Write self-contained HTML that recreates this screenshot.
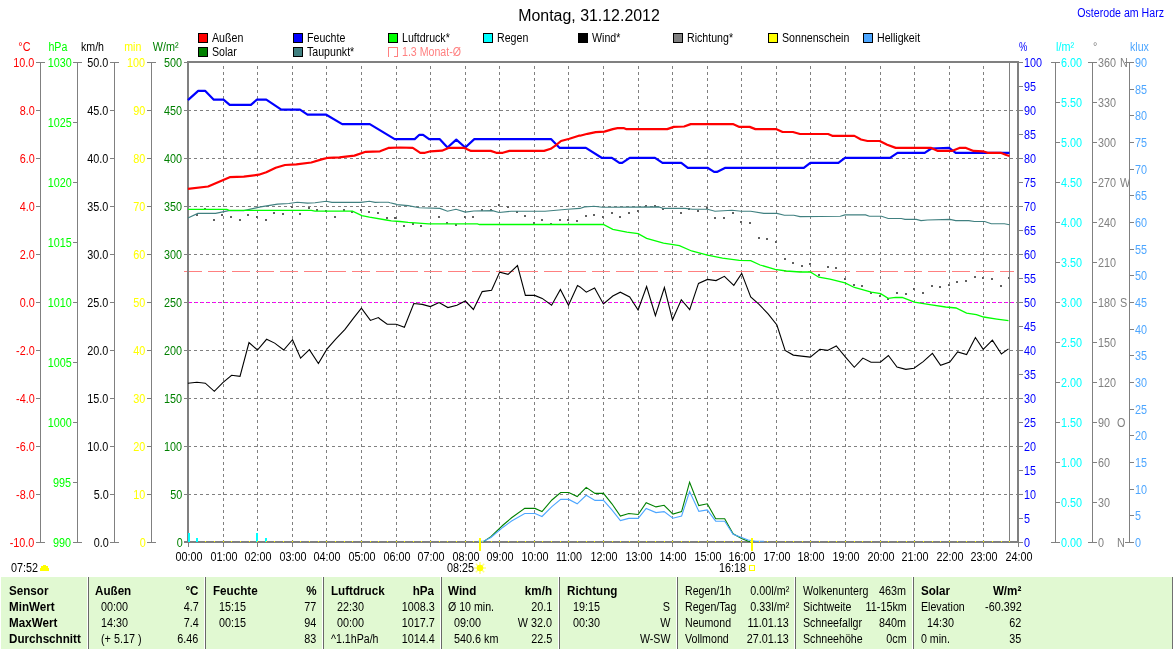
<!DOCTYPE html>
<html><head><meta charset="utf-8"><title>Wetter Osterode am Harz</title>
<style>
html,body{margin:0;padding:0;background:#fff}
body{width:1173px;height:649px;position:relative;overflow:hidden;font-family:"Liberation Sans",sans-serif;font-size:12px;line-height:14px}
svg{position:absolute;left:0;top:0}
#txt{position:absolute;left:0;top:0;width:1173px;height:649px;will-change:transform}
.t{position:absolute;white-space:nowrap;transform-origin:0 0}
.r{transform-origin:100% 0}
.c{width:300px;text-align:center;transform-origin:50% 0}
</style></head><body>
<svg width="1173" height="649" viewBox="0 0 1173 649" shape-rendering="crispEdges">
<line x1="223.5" y1="63" x2="223.5" y2="541" stroke="#808080" stroke-dasharray="3 3" stroke-dashoffset="3"/>
<line x1="257.5" y1="63" x2="257.5" y2="541" stroke="#808080" stroke-dasharray="3 3" stroke-dashoffset="3"/>
<line x1="292.5" y1="63" x2="292.5" y2="541" stroke="#808080" stroke-dasharray="3 3" stroke-dashoffset="3"/>
<line x1="326.5" y1="63" x2="326.5" y2="541" stroke="#808080" stroke-dasharray="3 3" stroke-dashoffset="3"/>
<line x1="361.5" y1="63" x2="361.5" y2="541" stroke="#808080" stroke-dasharray="3 3" stroke-dashoffset="3"/>
<line x1="396.5" y1="63" x2="396.5" y2="541" stroke="#808080" stroke-dasharray="3 3" stroke-dashoffset="3"/>
<line x1="430.5" y1="63" x2="430.5" y2="541" stroke="#808080" stroke-dasharray="3 3" stroke-dashoffset="3"/>
<line x1="465.5" y1="63" x2="465.5" y2="541" stroke="#808080" stroke-dasharray="3 3" stroke-dashoffset="3"/>
<line x1="499.5" y1="63" x2="499.5" y2="541" stroke="#808080" stroke-dasharray="3 3" stroke-dashoffset="3"/>
<line x1="534.5" y1="63" x2="534.5" y2="541" stroke="#808080" stroke-dasharray="3 3" stroke-dashoffset="3"/>
<line x1="568.5" y1="63" x2="568.5" y2="541" stroke="#808080" stroke-dasharray="3 3" stroke-dashoffset="3"/>
<line x1="603.5" y1="63" x2="603.5" y2="541" stroke="#808080" stroke-dasharray="3 3" stroke-dashoffset="3"/>
<line x1="638.5" y1="63" x2="638.5" y2="541" stroke="#808080" stroke-dasharray="3 3" stroke-dashoffset="3"/>
<line x1="672.5" y1="63" x2="672.5" y2="541" stroke="#808080" stroke-dasharray="3 3" stroke-dashoffset="3"/>
<line x1="707.5" y1="63" x2="707.5" y2="541" stroke="#808080" stroke-dasharray="3 3" stroke-dashoffset="3"/>
<line x1="741.5" y1="63" x2="741.5" y2="541" stroke="#808080" stroke-dasharray="3 3" stroke-dashoffset="3"/>
<line x1="776.5" y1="63" x2="776.5" y2="541" stroke="#808080" stroke-dasharray="3 3" stroke-dashoffset="3"/>
<line x1="810.5" y1="63" x2="810.5" y2="541" stroke="#808080" stroke-dasharray="3 3" stroke-dashoffset="3"/>
<line x1="845.5" y1="63" x2="845.5" y2="541" stroke="#808080" stroke-dasharray="3 3" stroke-dashoffset="3"/>
<line x1="880.5" y1="63" x2="880.5" y2="541" stroke="#808080" stroke-dasharray="3 3" stroke-dashoffset="3"/>
<line x1="914.5" y1="63" x2="914.5" y2="541" stroke="#808080" stroke-dasharray="3 3" stroke-dashoffset="3"/>
<line x1="949.5" y1="63" x2="949.5" y2="541" stroke="#808080" stroke-dasharray="3 3" stroke-dashoffset="3"/>
<line x1="983.5" y1="63" x2="983.5" y2="541" stroke="#808080" stroke-dasharray="3 3" stroke-dashoffset="3"/>
<line x1="189" y1="494.5" x2="1017" y2="494.5" stroke="#808080" stroke-dasharray="3 3" stroke-dashoffset="1"/>
<line x1="189" y1="446.5" x2="1017" y2="446.5" stroke="#808080" stroke-dasharray="3 3" stroke-dashoffset="1"/>
<line x1="189" y1="398.5" x2="1017" y2="398.5" stroke="#808080" stroke-dasharray="3 3" stroke-dashoffset="1"/>
<line x1="189" y1="350.5" x2="1017" y2="350.5" stroke="#808080" stroke-dasharray="3 3" stroke-dashoffset="1"/>
<line x1="189" y1="302.5" x2="1017" y2="302.5" stroke="#808080" stroke-dasharray="3 3" stroke-dashoffset="1"/>
<line x1="189" y1="254.5" x2="1017" y2="254.5" stroke="#808080" stroke-dasharray="3 3" stroke-dashoffset="1"/>
<line x1="189" y1="206.5" x2="1017" y2="206.5" stroke="#808080" stroke-dasharray="3 3" stroke-dashoffset="1"/>
<line x1="189" y1="158.5" x2="1017" y2="158.5" stroke="#808080" stroke-dasharray="3 3" stroke-dashoffset="1"/>
<line x1="189" y1="110.5" x2="1017" y2="110.5" stroke="#808080" stroke-dasharray="3 3" stroke-dashoffset="1"/>
<line x1="188.5" y1="543" x2="188.5" y2="547" stroke="#808080"/>
<line x1="223.5" y1="543" x2="223.5" y2="547" stroke="#808080"/>
<line x1="257.5" y1="543" x2="257.5" y2="547" stroke="#808080"/>
<line x1="292.5" y1="543" x2="292.5" y2="547" stroke="#808080"/>
<line x1="326.5" y1="543" x2="326.5" y2="547" stroke="#808080"/>
<line x1="361.5" y1="543" x2="361.5" y2="547" stroke="#808080"/>
<line x1="396.5" y1="543" x2="396.5" y2="547" stroke="#808080"/>
<line x1="430.5" y1="543" x2="430.5" y2="547" stroke="#808080"/>
<line x1="465.5" y1="543" x2="465.5" y2="547" stroke="#808080"/>
<line x1="499.5" y1="543" x2="499.5" y2="547" stroke="#808080"/>
<line x1="534.5" y1="543" x2="534.5" y2="547" stroke="#808080"/>
<line x1="568.5" y1="543" x2="568.5" y2="547" stroke="#808080"/>
<line x1="603.5" y1="543" x2="603.5" y2="547" stroke="#808080"/>
<line x1="638.5" y1="543" x2="638.5" y2="547" stroke="#808080"/>
<line x1="672.5" y1="543" x2="672.5" y2="547" stroke="#808080"/>
<line x1="707.5" y1="543" x2="707.5" y2="547" stroke="#808080"/>
<line x1="741.5" y1="543" x2="741.5" y2="547" stroke="#808080"/>
<line x1="776.5" y1="543" x2="776.5" y2="547" stroke="#808080"/>
<line x1="810.5" y1="543" x2="810.5" y2="547" stroke="#808080"/>
<line x1="845.5" y1="543" x2="845.5" y2="547" stroke="#808080"/>
<line x1="880.5" y1="543" x2="880.5" y2="547" stroke="#808080"/>
<line x1="914.5" y1="543" x2="914.5" y2="547" stroke="#808080"/>
<line x1="949.5" y1="543" x2="949.5" y2="547" stroke="#808080"/>
<line x1="983.5" y1="543" x2="983.5" y2="547" stroke="#808080"/>
<line x1="1018.5" y1="543" x2="1018.5" y2="547" stroke="#808080"/>
<line x1="189" y1="302.5" x2="1017" y2="302.5" stroke="#ff00ff" stroke-dasharray="3 3"/>
<line x1="184" y1="271.5" x2="1014" y2="271.5" stroke="#ff8080" stroke-dasharray="18 6"/>
<rect x="196" y="214" width="2" height="2" fill="#606060"/>
<rect x="204" y="208" width="2" height="2" fill="#606060"/>
<rect x="213" y="219" width="2" height="2" fill="#606060"/>
<rect x="221" y="214" width="2" height="2" fill="#606060"/>
<rect x="230" y="216" width="2" height="2" fill="#606060"/>
<rect x="239" y="219" width="2" height="2" fill="#606060"/>
<rect x="247" y="214" width="2" height="2" fill="#606060"/>
<rect x="256" y="216" width="2" height="2" fill="#606060"/>
<rect x="265" y="219" width="2" height="2" fill="#606060"/>
<rect x="273" y="212" width="2" height="2" fill="#606060"/>
<rect x="282" y="213" width="2" height="2" fill="#606060"/>
<rect x="291" y="206" width="2" height="2" fill="#606060"/>
<rect x="299" y="213" width="2" height="2" fill="#606060"/>
<rect x="308" y="207" width="2" height="2" fill="#606060"/>
<rect x="316" y="209" width="2" height="2" fill="#606060"/>
<rect x="325" y="210" width="2" height="2" fill="#606060"/>
<rect x="334" y="216" width="2" height="2" fill="#606060"/>
<rect x="343" y="209" width="2" height="2" fill="#606060"/>
<rect x="351" y="211" width="2" height="2" fill="#606060"/>
<rect x="360" y="209" width="2" height="2" fill="#606060"/>
<rect x="368" y="211" width="2" height="2" fill="#606060"/>
<rect x="377" y="212" width="2" height="2" fill="#606060"/>
<rect x="386" y="217" width="2" height="2" fill="#606060"/>
<rect x="394" y="217" width="2" height="2" fill="#606060"/>
<rect x="386" y="217" width="2" height="2" fill="#606060"/>
<rect x="395" y="217" width="2" height="2" fill="#606060"/>
<rect x="403" y="225" width="2" height="2" fill="#606060"/>
<rect x="412" y="223" width="2" height="2" fill="#606060"/>
<rect x="420" y="225" width="2" height="2" fill="#606060"/>
<rect x="438" y="216" width="2" height="2" fill="#606060"/>
<rect x="446" y="222" width="2" height="2" fill="#606060"/>
<rect x="455" y="224" width="2" height="2" fill="#606060"/>
<rect x="464" y="216" width="2" height="2" fill="#606060"/>
<rect x="472" y="216" width="2" height="2" fill="#606060"/>
<rect x="481" y="209" width="2" height="2" fill="#606060"/>
<rect x="490" y="209" width="2" height="2" fill="#606060"/>
<rect x="498" y="204" width="2" height="2" fill="#606060"/>
<rect x="507" y="206" width="2" height="2" fill="#606060"/>
<rect x="516" y="211" width="2" height="2" fill="#606060"/>
<rect x="524" y="215" width="2" height="2" fill="#606060"/>
<rect x="533" y="222" width="2" height="2" fill="#606060"/>
<rect x="541" y="219" width="2" height="2" fill="#606060"/>
<rect x="550" y="223" width="2" height="2" fill="#606060"/>
<rect x="559" y="219" width="2" height="2" fill="#606060"/>
<rect x="567" y="219" width="2" height="2" fill="#606060"/>
<rect x="576" y="220" width="2" height="2" fill="#606060"/>
<rect x="585" y="215" width="2" height="2" fill="#606060"/>
<rect x="593" y="214" width="2" height="2" fill="#606060"/>
<rect x="585" y="215" width="2" height="2" fill="#606060"/>
<rect x="593" y="214" width="2" height="2" fill="#606060"/>
<rect x="602" y="216" width="2" height="2" fill="#606060"/>
<rect x="611" y="212" width="2" height="2" fill="#606060"/>
<rect x="619" y="216" width="2" height="2" fill="#606060"/>
<rect x="628" y="212" width="2" height="2" fill="#606060"/>
<rect x="637" y="210" width="2" height="2" fill="#606060"/>
<rect x="645" y="205" width="2" height="2" fill="#606060"/>
<rect x="654" y="205" width="2" height="2" fill="#606060"/>
<rect x="662" y="208" width="2" height="2" fill="#606060"/>
<rect x="680" y="212" width="2" height="2" fill="#606060"/>
<rect x="688" y="208" width="2" height="2" fill="#606060"/>
<rect x="697" y="210" width="2" height="2" fill="#606060"/>
<rect x="706" y="207" width="2" height="2" fill="#606060"/>
<rect x="714" y="217" width="2" height="2" fill="#606060"/>
<rect x="723" y="217" width="2" height="2" fill="#606060"/>
<rect x="732" y="212" width="2" height="2" fill="#606060"/>
<rect x="740" y="221" width="2" height="2" fill="#606060"/>
<rect x="749" y="222" width="2" height="2" fill="#606060"/>
<rect x="758" y="237" width="2" height="2" fill="#606060"/>
<rect x="766" y="238" width="2" height="2" fill="#606060"/>
<rect x="775" y="241" width="2" height="2" fill="#606060"/>
<rect x="784" y="258" width="2" height="2" fill="#606060"/>
<rect x="792" y="262" width="2" height="2" fill="#606060"/>
<rect x="801" y="265" width="2" height="2" fill="#606060"/>
<rect x="809" y="263" width="2" height="2" fill="#606060"/>
<rect x="818" y="274" width="2" height="2" fill="#606060"/>
<rect x="827" y="266" width="2" height="2" fill="#606060"/>
<rect x="835" y="267" width="2" height="2" fill="#606060"/>
<rect x="844" y="278" width="2" height="2" fill="#606060"/>
<rect x="853" y="284" width="2" height="2" fill="#606060"/>
<rect x="861" y="285" width="2" height="2" fill="#606060"/>
<rect x="870" y="292" width="2" height="2" fill="#606060"/>
<rect x="879" y="295" width="2" height="2" fill="#606060"/>
<rect x="887" y="298" width="2" height="2" fill="#606060"/>
<rect x="896" y="292" width="2" height="2" fill="#606060"/>
<rect x="905" y="293" width="2" height="2" fill="#606060"/>
<rect x="913" y="288" width="2" height="2" fill="#606060"/>
<rect x="922" y="292" width="2" height="2" fill="#606060"/>
<rect x="931" y="285" width="2" height="2" fill="#606060"/>
<rect x="939" y="286" width="2" height="2" fill="#606060"/>
<rect x="948" y="284" width="2" height="2" fill="#606060"/>
<rect x="956" y="281" width="2" height="2" fill="#606060"/>
<rect x="965" y="280" width="2" height="2" fill="#606060"/>
<rect x="974" y="276" width="2" height="2" fill="#606060"/>
<rect x="982" y="277" width="2" height="2" fill="#606060"/>
<rect x="991" y="278" width="2" height="2" fill="#606060"/>
<rect x="1000" y="285" width="2" height="2" fill="#606060"/>
<rect x="1008" y="277" width="2" height="2" fill="#606060"/>
<rect x="1009" y="63" width="1" height="479" fill="#808080"/>
<rect x="187" y="61" width="832" height="2" fill="#808080"/>
<rect x="184" y="541" width="835" height="2" fill="#808080"/>
<rect x="187" y="61" width="2" height="482" fill="#808080"/>
<rect x="1017" y="61" width="2" height="482" fill="#808080"/>
<polyline points="187.9,218.1 197.8,213.4 215.6,213.4 228.8,210.6 243.8,210.6 260.6,206.9 277.5,204.1 288.8,203.5 297.2,202.2 307.5,203.1 315.0,202.8 326.3,201.3 331.9,202.4 361.0,202.4 369.4,201.3 375.1,202.4 380.0,202.2 388.4,202.2 390.1,202.8 395.7,204.1 396.9,204.6 408.1,205.6 419.4,207.8 440.0,208.4 447.5,211.2 456.0,209.3 465.3,212.1 473.8,211.0 492.5,210.6 499.1,212.5 511.3,211.2 545.0,211.2 567.6,209.3 580.0,208.4 584.4,206.9 591.3,206.5 593.8,206.3 602.5,207.3 658.8,206.9 663.5,208.4 685.0,208.4 692.5,209.3 707.5,209.3 715.0,211.2 731.9,210.3 741.3,211.2 750.7,211.2 763.8,213.4 776.9,213.4 784.4,215.3 793.8,215.3 800.0,216.6 840.3,216.3 845.0,214.9 865.6,214.9 869.4,216.3 881.6,216.3 888.2,218.5 901.3,218.5 905.0,219.4 916.3,219.4 921.0,220.6 927.5,220.0 950.0,219.4 955.7,220.6 968.8,220.6 974.4,221.5 984.7,221.5 991.3,223.8 1004.4,223.8 1009.5,224.7" fill="none" stroke="#408080" stroke-width="1.1" shape-rendering="auto"/>
<polyline points="187.9,209.3 226.9,209.3 229.1,210.3 311.3,210.3 315.0,211.2 352.5,211.2 361.9,215.7 369.4,217.2 386.3,220.0 391.3,220.9 400.0,221.5 408.1,222.3 428.8,223.8 477.5,223.8 479.4,224.5 600.0,224.5 603.4,224.5 612.8,229.4 626.9,232.2 638.1,233.7 646.6,238.4 663.5,243.1 679.4,245.7 691.6,251.0 707.5,255.1 722.5,258.1 739.4,260.3 750.7,260.7 760.1,265.0 775.1,269.3 786.3,271.0 800.0,272.0 810.3,272.0 818.8,277.2 830.0,279.1 845.0,282.8 854.4,287.5 871.3,292.2 880.6,293.7 888.2,298.4 895.7,297.3 902.2,297.5 914.4,302.2 931.4,304.9 945.7,307.0 956.0,308.0 966.6,313.1 976.4,314.6 983.6,317.0 996.9,319.1 1008.5,320.7" fill="none" stroke="#00ff00" stroke-width="1.3" shape-rendering="auto"/>
<polyline points="483.4,541.8 490.9,536.6 503.1,525.0 511.6,517.8 524.7,508.4 535.0,508.4 542.0,511.6 551.9,500.0 560.7,492.5 568.8,492.5 577.2,496.6 586.2,487.4 595.0,493.4 603.5,493.4 611.9,503.8 620.4,516.0 628.8,513.5 638.2,514.5 646.2,502.8 656.0,506.9 664.1,505.3 672.9,514.1 681.6,511.6 689.6,482.2 698.8,505.6 707.3,503.8 715.7,518.8 724.7,518.8 733.1,533.8 741.6,538.5 748.2,541.3 751.9,541.8" fill="none" stroke="#008000" stroke-width="1.1" shape-rendering="auto"/>
<polyline points="478.0,541.4 483.0,541.4 490.9,537.5 503.1,527.2 511.6,521.0 524.7,513.5 535.0,513.5 542.0,516.5 551.9,506.6 560.7,499.4 568.8,499.4 577.2,503.8 586.2,495.3 595.0,500.4 603.5,500.4 611.9,509.9 620.4,520.6 628.8,518.4 638.2,518.4 646.2,508.4 656.0,512.6 664.1,511.6 672.9,518.2 681.6,516.0 689.6,491.6 698.8,511.3 707.3,509.9 715.7,521.2 724.7,521.2 733.1,534.3 741.6,537.5 748.2,540.0 755.7,541.3 764.1,541.3" fill="none" stroke="#4da6ff" stroke-width="1.1" shape-rendering="auto"/>
<polyline points="187.9,383.2 196.9,382.3 205.3,383.2 214.3,391.3 223.1,382.3 231.6,375.3 240.0,376.3 249.0,342.5 257.5,350.0 266.6,339.3 274.7,343.1 283.7,350.0 292.5,339.7 300.6,358.1 309.4,349.6 318.4,363.5 326.9,349.1 335.7,339.1 345.0,329.4 353.5,318.1 361.4,308.2 370.4,320.4 378.4,317.6 380.0,319.0 387.2,324.3 395.7,324.3 396.9,324.5 404.4,327.3 413.8,303.5 422.2,304.4 430.3,306.6 439.1,302.5 447.9,307.6 456.9,305.3 465.3,301.0 473.4,309.5 482.2,291.6 491.6,290.3 499.7,272.1 508.1,274.4 517.5,265.6 525.4,295.4 534.7,295.4 542.2,298.4 551.6,305.3 560.4,289.4 568.5,305.3 577.5,285.6 580.0,286.9 586.3,292.2 594.6,288.1 603.4,304.0 612.8,296.0 620.3,292.2 629.7,296.9 638.1,310.0 646.6,286.6 655.4,315.6 664.4,287.5 672.5,319.8 681.3,299.7 689.7,309.6 698.5,283.4 707.5,279.4 716.0,280.6 724.4,276.3 733.8,285.3 741.7,273.4 750.7,296.9 759.1,304.4 768.1,313.8 776.9,325.0 785.1,350.4 793.3,355.1 801.5,356.1 810.3,357.1 819.9,349.3 827.5,350.4 836.3,345.9 845.5,357.1 854.3,367.3 862.9,358.1 871.0,362.2 880.3,362.2 888.4,355.5 897.0,367.1 905.8,369.4 914.0,368.2 923.2,361.6 932.4,353.4 940.6,365.3 949.8,362.0 957.6,352.0 966.6,354.5 975.4,337.5 983.2,349.3 992.4,340.1 1001.4,354.0 1008.5,348.9" fill="none" stroke="#000" stroke-width="1.1" shape-rendering="auto"/>
<polyline points="187.9,100.1 198.2,90.9 205.3,90.9 213.8,99.7 223.5,99.7 229.7,104.8 250.9,104.8 256.9,99.7 266.3,99.7 281.3,109.6 300.0,109.6 307.5,114.7 326.3,114.7 342.2,124.1 369.8,124.1 394.7,139.1 414.7,139.1 419.4,134.8 423.1,134.8 429.1,139.1 439.6,139.1 447.5,147.5 456.3,139.6 465.3,147.5 474.3,139.1 551.0,139.1 559.7,147.9 585.9,147.9 601.6,157.8 611.9,157.8 619.4,162.9 622.2,162.9 629.7,157.8 655.0,157.8 662.5,162.9 681.3,162.9 687.8,167.8 707.5,167.8 714.1,171.9 716.9,171.9 725.4,167.8 800.0,167.8 803.8,167.8 810.3,162.9 838.4,162.9 845.0,157.8 890.0,157.8 897.5,152.8 924.7,152.8 931.3,148.5 949.1,147.9 955.7,152.8 1009.5,152.8" fill="none" stroke="#0000ff" stroke-width="2.2" shape-rendering="auto" stroke-linejoin="round"/>
<polyline points="187.9,188.8 208.1,186.5 229.7,177.2 243.8,176.6 258.8,174.7 266.3,172.3 275.7,167.8 285.0,165.0 296.3,164.4 311.3,162.5 322.5,159.1 328.2,157.8 339.4,157.3 354.4,155.6 365.7,151.8 380.0,151.3 388.4,147.9 390.1,147.9 400.0,147.5 412.8,147.9 420.3,152.8 425.0,152.8 430.6,151.3 441.9,150.7 448.5,147.9 464.4,147.9 471.0,150.9 490.7,150.9 496.3,152.8 502.8,152.8 509.4,150.9 544.1,150.9 550.7,148.8 555.4,145.6 561.0,141.0 569.4,138.7 578.8,135.7 580.0,135.7 587.5,133.8 595.7,132.1 604.4,131.6 612.8,129.1 617.5,128.2 624.1,128.2 626.0,129.1 667.2,129.1 673.8,126.9 684.1,126.5 690.7,124.1 732.9,124.1 739.4,126.9 749.7,126.9 755.4,129.1 776.0,129.1 782.6,132.0 792.9,132.0 800.0,134.0 828.1,134.0 832.8,135.9 854.4,135.9 861.0,139.5 867.5,141.0 879.7,141.0 887.2,144.7 895.7,147.9 931.3,147.9 937.9,150.9 951.9,150.9 959.4,147.9 966.0,147.9 973.5,150.9 982.9,151.3 987.6,152.8 1000.7,152.8 1006.3,155.0 1009.5,156.0" fill="none" stroke="#ff0000" stroke-width="2.2" shape-rendering="auto" stroke-linejoin="round"/>
<rect x="188" y="533" width="2" height="9" fill="#00ffff"/>
<rect x="196" y="538" width="2" height="4" fill="#00ffff"/>
<rect x="256" y="533" width="2" height="9" fill="#00ffff"/>
<rect x="265" y="538" width="2" height="4" fill="#00ffff"/>
<rect x="205" y="541" width="1" height="1" fill="#ffff00"/>
<rect x="214" y="541" width="1" height="1" fill="#ffff00"/>
<rect x="223" y="541" width="1" height="1" fill="#ffff00"/>
<rect x="231" y="541" width="1" height="1" fill="#ffff00"/>
<rect x="240" y="541" width="1" height="1" fill="#ffff00"/>
<rect x="249" y="541" width="1" height="1" fill="#ffff00"/>
<rect x="257" y="541" width="1" height="1" fill="#ffff00"/>
<rect x="266" y="541" width="1" height="1" fill="#ffff00"/>
<rect x="274" y="541" width="1" height="1" fill="#ffff00"/>
<rect x="283" y="541" width="1" height="1" fill="#ffff00"/>
<rect x="292" y="541" width="1" height="1" fill="#ffff00"/>
<rect x="300" y="541" width="1" height="1" fill="#ffff00"/>
<rect x="309" y="541" width="1" height="1" fill="#ffff00"/>
<rect x="318" y="541" width="1" height="1" fill="#ffff00"/>
<rect x="326" y="541" width="1" height="1" fill="#ffff00"/>
<rect x="335" y="541" width="1" height="1" fill="#ffff00"/>
<rect x="344" y="541" width="1" height="1" fill="#ffff00"/>
<rect x="352" y="541" width="1" height="1" fill="#ffff00"/>
<rect x="361" y="541" width="1" height="1" fill="#ffff00"/>
<rect x="370" y="541" width="1" height="1" fill="#ffff00"/>
<rect x="378" y="541" width="1" height="1" fill="#ffff00"/>
<rect x="387" y="541" width="1" height="1" fill="#ffff00"/>
<rect x="396" y="541" width="1" height="1" fill="#ffff00"/>
<rect x="404" y="541" width="1" height="1" fill="#ffff00"/>
<rect x="413" y="541" width="1" height="1" fill="#ffff00"/>
<rect x="421" y="541" width="1" height="1" fill="#ffff00"/>
<rect x="430" y="541" width="1" height="1" fill="#ffff00"/>
<rect x="439" y="541" width="1" height="1" fill="#ffff00"/>
<rect x="447" y="541" width="1" height="1" fill="#ffff00"/>
<rect x="456" y="541" width="1" height="1" fill="#ffff00"/>
<rect x="465" y="541" width="1" height="1" fill="#ffff00"/>
<rect x="473" y="541" width="1" height="1" fill="#ffff00"/>
<rect x="482" y="541" width="1" height="1" fill="#ffff00"/>
<rect x="491" y="541" width="1" height="1" fill="#ffff00"/>
<rect x="499" y="541" width="1" height="1" fill="#ffff00"/>
<rect x="508" y="541" width="1" height="1" fill="#ffff00"/>
<rect x="517" y="541" width="1" height="1" fill="#ffff00"/>
<rect x="525" y="541" width="1" height="1" fill="#ffff00"/>
<rect x="534" y="541" width="1" height="1" fill="#ffff00"/>
<rect x="542" y="541" width="1" height="1" fill="#ffff00"/>
<rect x="551" y="541" width="1" height="1" fill="#ffff00"/>
<rect x="560" y="541" width="1" height="1" fill="#ffff00"/>
<rect x="568" y="541" width="1" height="1" fill="#ffff00"/>
<rect x="577" y="541" width="1" height="1" fill="#ffff00"/>
<rect x="586" y="541" width="1" height="1" fill="#ffff00"/>
<rect x="594" y="541" width="1" height="1" fill="#ffff00"/>
<rect x="603" y="541" width="1" height="1" fill="#ffff00"/>
<rect x="612" y="541" width="1" height="1" fill="#ffff00"/>
<rect x="620" y="541" width="1" height="1" fill="#ffff00"/>
<rect x="629" y="541" width="1" height="1" fill="#ffff00"/>
<rect x="638" y="541" width="1" height="1" fill="#ffff00"/>
<rect x="646" y="541" width="1" height="1" fill="#ffff00"/>
<rect x="655" y="541" width="1" height="1" fill="#ffff00"/>
<rect x="664" y="541" width="1" height="1" fill="#ffff00"/>
<rect x="672" y="541" width="1" height="1" fill="#ffff00"/>
<rect x="681" y="541" width="1" height="1" fill="#ffff00"/>
<rect x="689" y="541" width="1" height="1" fill="#ffff00"/>
<rect x="698" y="541" width="1" height="1" fill="#ffff00"/>
<rect x="707" y="541" width="1" height="1" fill="#ffff00"/>
<rect x="715" y="541" width="1" height="1" fill="#ffff00"/>
<rect x="724" y="541" width="1" height="1" fill="#ffff00"/>
<rect x="733" y="541" width="1" height="1" fill="#ffff00"/>
<rect x="741" y="541" width="1" height="1" fill="#ffff00"/>
<rect x="750" y="541" width="1" height="1" fill="#ffff00"/>
<rect x="759" y="541" width="1" height="1" fill="#ffff00"/>
<rect x="767" y="541" width="1" height="1" fill="#ffff00"/>
<rect x="776" y="541" width="1" height="1" fill="#ffff00"/>
<rect x="785" y="541" width="1" height="1" fill="#ffff00"/>
<rect x="793" y="541" width="1" height="1" fill="#ffff00"/>
<rect x="802" y="541" width="1" height="1" fill="#ffff00"/>
<rect x="810" y="541" width="1" height="1" fill="#ffff00"/>
<rect x="819" y="541" width="1" height="1" fill="#ffff00"/>
<rect x="828" y="541" width="1" height="1" fill="#ffff00"/>
<rect x="836" y="541" width="1" height="1" fill="#ffff00"/>
<rect x="845" y="541" width="1" height="1" fill="#ffff00"/>
<rect x="854" y="541" width="1" height="1" fill="#ffff00"/>
<rect x="862" y="541" width="1" height="1" fill="#ffff00"/>
<rect x="871" y="541" width="1" height="1" fill="#ffff00"/>
<rect x="880" y="541" width="1" height="1" fill="#ffff00"/>
<rect x="888" y="541" width="1" height="1" fill="#ffff00"/>
<rect x="897" y="541" width="1" height="1" fill="#ffff00"/>
<rect x="906" y="541" width="1" height="1" fill="#ffff00"/>
<rect x="914" y="541" width="1" height="1" fill="#ffff00"/>
<rect x="923" y="541" width="1" height="1" fill="#ffff00"/>
<rect x="932" y="541" width="1" height="1" fill="#ffff00"/>
<rect x="940" y="541" width="1" height="1" fill="#ffff00"/>
<rect x="949" y="541" width="1" height="1" fill="#ffff00"/>
<rect x="957" y="541" width="1" height="1" fill="#ffff00"/>
<rect x="966" y="541" width="1" height="1" fill="#ffff00"/>
<rect x="975" y="541" width="1" height="1" fill="#ffff00"/>
<rect x="983" y="541" width="1" height="1" fill="#ffff00"/>
<rect x="992" y="541" width="1" height="1" fill="#ffff00"/>
<rect x="1001" y="541" width="1" height="1" fill="#ffff00"/>
<rect x="1009" y="541" width="1" height="1" fill="#ffff00"/>
<rect x="479" y="538" width="2" height="13" fill="#ffff00"/>
<rect x="751" y="538" width="2" height="13" fill="#ffff00"/>
<rect x="40" y="62" width="1" height="481" fill="#808080"/>
<rect x="36" y="62" width="9" height="1" fill="#808080"/>
<rect x="36" y="110" width="4" height="1" fill="#808080"/>
<rect x="36" y="158" width="4" height="1" fill="#808080"/>
<rect x="36" y="206" width="4" height="1" fill="#808080"/>
<rect x="36" y="254" width="4" height="1" fill="#808080"/>
<rect x="36" y="302" width="4" height="1" fill="#808080"/>
<rect x="36" y="350" width="4" height="1" fill="#808080"/>
<rect x="36" y="398" width="4" height="1" fill="#808080"/>
<rect x="36" y="446" width="4" height="1" fill="#808080"/>
<rect x="36" y="494" width="4" height="1" fill="#808080"/>
<rect x="36" y="542" width="9" height="1" fill="#808080"/>
<rect x="77" y="62" width="1" height="481" fill="#808080"/>
<rect x="73" y="62" width="9" height="1" fill="#808080"/>
<rect x="73" y="122" width="4" height="1" fill="#808080"/>
<rect x="73" y="182" width="4" height="1" fill="#808080"/>
<rect x="73" y="242" width="4" height="1" fill="#808080"/>
<rect x="73" y="302" width="4" height="1" fill="#808080"/>
<rect x="73" y="362" width="4" height="1" fill="#808080"/>
<rect x="73" y="422" width="4" height="1" fill="#808080"/>
<rect x="73" y="482" width="4" height="1" fill="#808080"/>
<rect x="73" y="542" width="9" height="1" fill="#808080"/>
<rect x="114" y="62" width="1" height="481" fill="#808080"/>
<rect x="110" y="62" width="9" height="1" fill="#808080"/>
<rect x="110" y="110" width="4" height="1" fill="#808080"/>
<rect x="110" y="158" width="4" height="1" fill="#808080"/>
<rect x="110" y="206" width="4" height="1" fill="#808080"/>
<rect x="110" y="254" width="4" height="1" fill="#808080"/>
<rect x="110" y="302" width="4" height="1" fill="#808080"/>
<rect x="110" y="350" width="4" height="1" fill="#808080"/>
<rect x="110" y="398" width="4" height="1" fill="#808080"/>
<rect x="110" y="446" width="4" height="1" fill="#808080"/>
<rect x="110" y="494" width="4" height="1" fill="#808080"/>
<rect x="110" y="542" width="9" height="1" fill="#808080"/>
<rect x="151" y="62" width="1" height="481" fill="#808080"/>
<rect x="147" y="62" width="9" height="1" fill="#808080"/>
<rect x="147" y="110" width="4" height="1" fill="#808080"/>
<rect x="147" y="158" width="4" height="1" fill="#808080"/>
<rect x="147" y="206" width="4" height="1" fill="#808080"/>
<rect x="147" y="254" width="4" height="1" fill="#808080"/>
<rect x="147" y="302" width="4" height="1" fill="#808080"/>
<rect x="147" y="350" width="4" height="1" fill="#808080"/>
<rect x="147" y="398" width="4" height="1" fill="#808080"/>
<rect x="147" y="446" width="4" height="1" fill="#808080"/>
<rect x="147" y="494" width="4" height="1" fill="#808080"/>
<rect x="147" y="542" width="9" height="1" fill="#808080"/>
<rect x="184" y="62" width="3" height="1" fill="#808080"/>
<rect x="184" y="110" width="3" height="1" fill="#808080"/>
<rect x="184" y="158" width="3" height="1" fill="#808080"/>
<rect x="184" y="206" width="3" height="1" fill="#808080"/>
<rect x="184" y="254" width="3" height="1" fill="#808080"/>
<rect x="184" y="302" width="3" height="1" fill="#808080"/>
<rect x="184" y="350" width="3" height="1" fill="#808080"/>
<rect x="184" y="398" width="3" height="1" fill="#808080"/>
<rect x="184" y="446" width="3" height="1" fill="#808080"/>
<rect x="184" y="494" width="3" height="1" fill="#808080"/>
<rect x="184" y="542" width="3" height="1" fill="#808080"/>
<rect x="1019" y="62" width="4" height="1" fill="#808080"/>
<rect x="1019" y="86" width="4" height="1" fill="#808080"/>
<rect x="1019" y="110" width="4" height="1" fill="#808080"/>
<rect x="1019" y="134" width="4" height="1" fill="#808080"/>
<rect x="1019" y="158" width="4" height="1" fill="#808080"/>
<rect x="1019" y="182" width="4" height="1" fill="#808080"/>
<rect x="1019" y="206" width="4" height="1" fill="#808080"/>
<rect x="1019" y="230" width="4" height="1" fill="#808080"/>
<rect x="1019" y="254" width="4" height="1" fill="#808080"/>
<rect x="1019" y="278" width="4" height="1" fill="#808080"/>
<rect x="1019" y="302" width="4" height="1" fill="#808080"/>
<rect x="1019" y="326" width="4" height="1" fill="#808080"/>
<rect x="1019" y="350" width="4" height="1" fill="#808080"/>
<rect x="1019" y="374" width="4" height="1" fill="#808080"/>
<rect x="1019" y="398" width="4" height="1" fill="#808080"/>
<rect x="1019" y="422" width="4" height="1" fill="#808080"/>
<rect x="1019" y="446" width="4" height="1" fill="#808080"/>
<rect x="1019" y="470" width="4" height="1" fill="#808080"/>
<rect x="1019" y="494" width="4" height="1" fill="#808080"/>
<rect x="1019" y="518" width="4" height="1" fill="#808080"/>
<rect x="1019" y="542" width="4" height="1" fill="#808080"/>
<rect x="1055" y="62" width="1" height="481" fill="#808080"/>
<rect x="1051" y="62" width="9" height="1" fill="#808080"/>
<rect x="1056" y="102" width="4" height="1" fill="#808080"/>
<rect x="1056" y="142" width="4" height="1" fill="#808080"/>
<rect x="1056" y="182" width="4" height="1" fill="#808080"/>
<rect x="1056" y="222" width="4" height="1" fill="#808080"/>
<rect x="1056" y="262" width="4" height="1" fill="#808080"/>
<rect x="1056" y="302" width="4" height="1" fill="#808080"/>
<rect x="1056" y="342" width="4" height="1" fill="#808080"/>
<rect x="1056" y="382" width="4" height="1" fill="#808080"/>
<rect x="1056" y="422" width="4" height="1" fill="#808080"/>
<rect x="1056" y="462" width="4" height="1" fill="#808080"/>
<rect x="1056" y="502" width="4" height="1" fill="#808080"/>
<rect x="1051" y="542" width="9" height="1" fill="#808080"/>
<rect x="1092" y="62" width="1" height="481" fill="#808080"/>
<rect x="1088" y="62" width="9" height="1" fill="#808080"/>
<rect x="1093" y="102" width="4" height="1" fill="#808080"/>
<rect x="1093" y="142" width="4" height="1" fill="#808080"/>
<rect x="1093" y="182" width="4" height="1" fill="#808080"/>
<rect x="1093" y="222" width="4" height="1" fill="#808080"/>
<rect x="1093" y="262" width="4" height="1" fill="#808080"/>
<rect x="1093" y="302" width="4" height="1" fill="#808080"/>
<rect x="1093" y="342" width="4" height="1" fill="#808080"/>
<rect x="1093" y="382" width="4" height="1" fill="#808080"/>
<rect x="1093" y="422" width="4" height="1" fill="#808080"/>
<rect x="1093" y="462" width="4" height="1" fill="#808080"/>
<rect x="1093" y="502" width="4" height="1" fill="#808080"/>
<rect x="1088" y="542" width="9" height="1" fill="#808080"/>
<rect x="1129" y="62" width="1" height="481" fill="#808080"/>
<rect x="1125" y="62" width="9" height="1" fill="#808080"/>
<rect x="1130" y="89" width="4" height="1" fill="#808080"/>
<rect x="1130" y="115" width="4" height="1" fill="#808080"/>
<rect x="1130" y="142" width="4" height="1" fill="#808080"/>
<rect x="1130" y="169" width="4" height="1" fill="#808080"/>
<rect x="1130" y="195" width="4" height="1" fill="#808080"/>
<rect x="1130" y="222" width="4" height="1" fill="#808080"/>
<rect x="1130" y="249" width="4" height="1" fill="#808080"/>
<rect x="1130" y="275" width="4" height="1" fill="#808080"/>
<rect x="1130" y="302" width="4" height="1" fill="#808080"/>
<rect x="1130" y="329" width="4" height="1" fill="#808080"/>
<rect x="1130" y="355" width="4" height="1" fill="#808080"/>
<rect x="1130" y="382" width="4" height="1" fill="#808080"/>
<rect x="1130" y="409" width="4" height="1" fill="#808080"/>
<rect x="1130" y="435" width="4" height="1" fill="#808080"/>
<rect x="1130" y="462" width="4" height="1" fill="#808080"/>
<rect x="1130" y="489" width="4" height="1" fill="#808080"/>
<rect x="1130" y="515" width="4" height="1" fill="#808080"/>
<rect x="1125" y="542" width="9" height="1" fill="#808080"/>
<rect x="198.5" y="33.5" width="9" height="9" fill="#ff0000" stroke="#000"/>
<rect x="293.5" y="33.5" width="9" height="9" fill="#0000ff" stroke="#000"/>
<rect x="388.5" y="33.5" width="9" height="9" fill="#00ff00" stroke="#000"/>
<rect x="483.5" y="33.5" width="9" height="9" fill="#00ffff" stroke="#000"/>
<rect x="578.5" y="33.5" width="9" height="9" fill="#000000" stroke="#000"/>
<rect x="673.5" y="33.5" width="9" height="9" fill="#808080" stroke="#000"/>
<rect x="768.5" y="33.5" width="9" height="9" fill="#ffff00" stroke="#000"/>
<rect x="863.5" y="33.5" width="9" height="9" fill="#4da6ff" stroke="#000"/>
<rect x="198.5" y="47.5" width="9" height="9" fill="#008000" stroke="#000"/>
<rect x="293.5" y="47.5" width="9" height="9" fill="#408080" stroke="#000"/>
<path d="M388.5 57V47.5H397.5V56.5H394" fill="none" stroke="#ff8080"/>
<path d="M43 565h3v1h2v2h1v3h-9v-3h1v-2h2z" fill="#ffff00"/>
<g shape-rendering="auto"><g stroke="#ffff88" stroke-width="1.6"><path d="M480 562v12M474 568h12M475.8 563.8l8.4 8.4M484.2 563.8l-8.4 8.4"/></g><circle cx="480" cy="568" r="3.3" fill="#ffff00"/></g>
<rect x="749.5" y="565.5" width="5" height="5" fill="none" stroke="#ffff00"/>
<rect x="1" y="577" width="1171" height="72" fill="#e1f9d2"/>
<rect x="1172" y="577" width="1" height="72" fill="#707070"/>
<rect x="87" y="577" width="1" height="72" fill="#ffffff"/><rect x="88" y="577" width="1" height="72" fill="#686868"/>
<rect x="204" y="577" width="1" height="72" fill="#ffffff"/><rect x="205" y="577" width="1" height="72" fill="#686868"/>
<rect x="322" y="577" width="1" height="72" fill="#ffffff"/><rect x="323" y="577" width="1" height="72" fill="#686868"/>
<rect x="440" y="577" width="1" height="72" fill="#ffffff"/><rect x="441" y="577" width="1" height="72" fill="#686868"/>
<rect x="558" y="577" width="1" height="72" fill="#ffffff"/><rect x="559" y="577" width="1" height="72" fill="#686868"/>
<rect x="676" y="577" width="1" height="72" fill="#ffffff"/><rect x="677" y="577" width="1" height="72" fill="#686868"/>
<rect x="794" y="577" width="1" height="72" fill="#ffffff"/><rect x="795" y="577" width="1" height="72" fill="#686868"/>
<rect x="912" y="577" width="1" height="72" fill="#ffffff"/><rect x="913" y="577" width="1" height="72" fill="#686868"/>
</svg>
<div id="txt">
<span class="t c" style="left:438.5px;top:7px;color:#000;font-size:16px;line-height:18px;transform:scaleX(0.995)">Montag, 31.12.2012</span>
<span class="t r" style="right:9px;top:6px;color:#0000ff;transform:scaleX(0.885)">Osterode am Harz</span>
<span class="t" style="left:212px;top:31px;color:#000;transform:scaleX(0.885)">Außen</span>
<span class="t" style="left:307px;top:31px;color:#000;transform:scaleX(0.885)">Feuchte</span>
<span class="t" style="left:402px;top:31px;color:#000;transform:scaleX(0.885)">Luftdruck*</span>
<span class="t" style="left:497px;top:31px;color:#000;transform:scaleX(0.885)">Regen</span>
<span class="t" style="left:592px;top:31px;color:#000;transform:scaleX(0.885)">Wind*</span>
<span class="t" style="left:687px;top:31px;color:#000;transform:scaleX(0.885)">Richtung*</span>
<span class="t" style="left:782px;top:31px;color:#000;transform:scaleX(0.885)">Sonnenschein</span>
<span class="t" style="left:877px;top:31px;color:#000;transform:scaleX(0.885)">Helligkeit</span>
<span class="t" style="left:212px;top:45px;color:#000;transform:scaleX(0.885)">Solar</span>
<span class="t" style="left:307px;top:45px;color:#000;transform:scaleX(0.885)">Taupunkt*</span>
<span class="t" style="left:402px;top:45px;color:#ff8080;transform:scaleX(0.885)">1.3 Monat-Ø</span>
<span class="t r" style="right:1142.5px;top:40px;color:#ff0000;transform:scaleX(0.9)">°C</span>
<span class="t r" style="right:1105.5px;top:40px;color:#00ff00;transform:scaleX(0.885)">hPa</span>
<span class="t r" style="right:1068.5px;top:40px;color:#000;transform:scaleX(0.885)">km/h</span>
<span class="t r" style="right:1031.5px;top:40px;color:#ffff00;transform:scaleX(0.885)">min</span>
<span class="t r" style="right:994.5px;top:40px;color:#008000;transform:scaleX(0.9)">W/m²</span>
<span class="t" style="left:1018.5px;top:40px;color:#0000ff;transform:scaleX(0.78)">%</span>
<span class="t" style="left:1055.5px;top:40px;color:#00ffff;transform:scaleX(0.9)">l/m²</span>
<span class="t" style="left:1093px;top:40px;color:#808080;transform:scaleX(0.9)">°</span>
<span class="t" style="left:1129.5px;top:40px;color:#4da6ff;transform:scaleX(0.885)">klux</span>
<span class="t r" style="right:1138.5px;top:56px;color:#ff0000;transform:scaleX(0.9)">10.0</span>
<span class="t r" style="right:1064.5px;top:56px;color:#000;transform:scaleX(0.9)">50.0</span>
<span class="t r" style="right:1027.5px;top:56px;color:#ffff00;transform:scaleX(0.9)">100</span>
<span class="t r" style="right:990.5px;top:56px;color:#008000;transform:scaleX(0.9)">500</span>
<span class="t r" style="right:1138.5px;top:104px;color:#ff0000;transform:scaleX(0.9)">8.0</span>
<span class="t r" style="right:1064.5px;top:104px;color:#000;transform:scaleX(0.9)">45.0</span>
<span class="t r" style="right:1027.5px;top:104px;color:#ffff00;transform:scaleX(0.9)">90</span>
<span class="t r" style="right:990.5px;top:104px;color:#008000;transform:scaleX(0.9)">450</span>
<span class="t r" style="right:1138.5px;top:152px;color:#ff0000;transform:scaleX(0.9)">6.0</span>
<span class="t r" style="right:1064.5px;top:152px;color:#000;transform:scaleX(0.9)">40.0</span>
<span class="t r" style="right:1027.5px;top:152px;color:#ffff00;transform:scaleX(0.9)">80</span>
<span class="t r" style="right:990.5px;top:152px;color:#008000;transform:scaleX(0.9)">400</span>
<span class="t r" style="right:1138.5px;top:200px;color:#ff0000;transform:scaleX(0.9)">4.0</span>
<span class="t r" style="right:1064.5px;top:200px;color:#000;transform:scaleX(0.9)">35.0</span>
<span class="t r" style="right:1027.5px;top:200px;color:#ffff00;transform:scaleX(0.9)">70</span>
<span class="t r" style="right:990.5px;top:200px;color:#008000;transform:scaleX(0.9)">350</span>
<span class="t r" style="right:1138.5px;top:248px;color:#ff0000;transform:scaleX(0.9)">2.0</span>
<span class="t r" style="right:1064.5px;top:248px;color:#000;transform:scaleX(0.9)">30.0</span>
<span class="t r" style="right:1027.5px;top:248px;color:#ffff00;transform:scaleX(0.9)">60</span>
<span class="t r" style="right:990.5px;top:248px;color:#008000;transform:scaleX(0.9)">300</span>
<span class="t r" style="right:1138.5px;top:296px;color:#ff0000;transform:scaleX(0.9)">0.0</span>
<span class="t r" style="right:1064.5px;top:296px;color:#000;transform:scaleX(0.9)">25.0</span>
<span class="t r" style="right:1027.5px;top:296px;color:#ffff00;transform:scaleX(0.9)">50</span>
<span class="t r" style="right:990.5px;top:296px;color:#008000;transform:scaleX(0.9)">250</span>
<span class="t r" style="right:1138.5px;top:344px;color:#ff0000;transform:scaleX(0.9)">-2.0</span>
<span class="t r" style="right:1064.5px;top:344px;color:#000;transform:scaleX(0.9)">20.0</span>
<span class="t r" style="right:1027.5px;top:344px;color:#ffff00;transform:scaleX(0.9)">40</span>
<span class="t r" style="right:990.5px;top:344px;color:#008000;transform:scaleX(0.9)">200</span>
<span class="t r" style="right:1138.5px;top:392px;color:#ff0000;transform:scaleX(0.9)">-4.0</span>
<span class="t r" style="right:1064.5px;top:392px;color:#000;transform:scaleX(0.9)">15.0</span>
<span class="t r" style="right:1027.5px;top:392px;color:#ffff00;transform:scaleX(0.9)">30</span>
<span class="t r" style="right:990.5px;top:392px;color:#008000;transform:scaleX(0.9)">150</span>
<span class="t r" style="right:1138.5px;top:440px;color:#ff0000;transform:scaleX(0.9)">-6.0</span>
<span class="t r" style="right:1064.5px;top:440px;color:#000;transform:scaleX(0.9)">10.0</span>
<span class="t r" style="right:1027.5px;top:440px;color:#ffff00;transform:scaleX(0.9)">20</span>
<span class="t r" style="right:990.5px;top:440px;color:#008000;transform:scaleX(0.9)">100</span>
<span class="t r" style="right:1138.5px;top:488px;color:#ff0000;transform:scaleX(0.9)">-8.0</span>
<span class="t r" style="right:1064.5px;top:488px;color:#000;transform:scaleX(0.9)">5.0</span>
<span class="t r" style="right:1027.5px;top:488px;color:#ffff00;transform:scaleX(0.9)">10</span>
<span class="t r" style="right:990.5px;top:488px;color:#008000;transform:scaleX(0.9)">50</span>
<span class="t r" style="right:1138.5px;top:536px;color:#ff0000;transform:scaleX(0.9)">-10.0</span>
<span class="t r" style="right:1064.5px;top:536px;color:#000;transform:scaleX(0.9)">0.0</span>
<span class="t r" style="right:1027.5px;top:536px;color:#ffff00;transform:scaleX(0.9)">0</span>
<span class="t r" style="right:990.5px;top:536px;color:#008000;transform:scaleX(0.9)">0</span>
<span class="t r" style="right:1101.5px;top:56px;color:#00ff00;transform:scaleX(0.9)">1030</span>
<span class="t r" style="right:1101.5px;top:116px;color:#00ff00;transform:scaleX(0.9)">1025</span>
<span class="t r" style="right:1101.5px;top:176px;color:#00ff00;transform:scaleX(0.9)">1020</span>
<span class="t r" style="right:1101.5px;top:236px;color:#00ff00;transform:scaleX(0.9)">1015</span>
<span class="t r" style="right:1101.5px;top:296px;color:#00ff00;transform:scaleX(0.9)">1010</span>
<span class="t r" style="right:1101.5px;top:356px;color:#00ff00;transform:scaleX(0.9)">1005</span>
<span class="t r" style="right:1101.5px;top:416px;color:#00ff00;transform:scaleX(0.9)">1000</span>
<span class="t r" style="right:1101.5px;top:476px;color:#00ff00;transform:scaleX(0.9)">995</span>
<span class="t r" style="right:1101.5px;top:536px;color:#00ff00;transform:scaleX(0.9)">990</span>
<span class="t" style="left:1024.2px;top:56px;color:#0000ff;transform:scaleX(0.9)">100</span>
<span class="t" style="left:1024.2px;top:80px;color:#0000ff;transform:scaleX(0.9)">95</span>
<span class="t" style="left:1024.2px;top:104px;color:#0000ff;transform:scaleX(0.9)">90</span>
<span class="t" style="left:1024.2px;top:128px;color:#0000ff;transform:scaleX(0.9)">85</span>
<span class="t" style="left:1024.2px;top:152px;color:#0000ff;transform:scaleX(0.9)">80</span>
<span class="t" style="left:1024.2px;top:176px;color:#0000ff;transform:scaleX(0.9)">75</span>
<span class="t" style="left:1024.2px;top:200px;color:#0000ff;transform:scaleX(0.9)">70</span>
<span class="t" style="left:1024.2px;top:224px;color:#0000ff;transform:scaleX(0.9)">65</span>
<span class="t" style="left:1024.2px;top:248px;color:#0000ff;transform:scaleX(0.9)">60</span>
<span class="t" style="left:1024.2px;top:272px;color:#0000ff;transform:scaleX(0.9)">55</span>
<span class="t" style="left:1024.2px;top:296px;color:#0000ff;transform:scaleX(0.9)">50</span>
<span class="t" style="left:1024.2px;top:320px;color:#0000ff;transform:scaleX(0.9)">45</span>
<span class="t" style="left:1024.2px;top:344px;color:#0000ff;transform:scaleX(0.9)">40</span>
<span class="t" style="left:1024.2px;top:368px;color:#0000ff;transform:scaleX(0.9)">35</span>
<span class="t" style="left:1024.2px;top:392px;color:#0000ff;transform:scaleX(0.9)">30</span>
<span class="t" style="left:1024.2px;top:416px;color:#0000ff;transform:scaleX(0.9)">25</span>
<span class="t" style="left:1024.2px;top:440px;color:#0000ff;transform:scaleX(0.9)">20</span>
<span class="t" style="left:1024.2px;top:464px;color:#0000ff;transform:scaleX(0.9)">15</span>
<span class="t" style="left:1024.2px;top:488px;color:#0000ff;transform:scaleX(0.9)">10</span>
<span class="t" style="left:1024.2px;top:512px;color:#0000ff;transform:scaleX(0.9)">5</span>
<span class="t" style="left:1024.2px;top:536px;color:#0000ff;transform:scaleX(0.9)">0</span>
<span class="t" style="left:1061.3px;top:56px;color:#00ffff;transform:scaleX(0.9)">6.00</span>
<span class="t" style="left:1098.3px;top:56px;color:#808080;transform:scaleX(0.9)">360</span>
<span class="t" style="left:1061.3px;top:96px;color:#00ffff;transform:scaleX(0.9)">5.50</span>
<span class="t" style="left:1098.3px;top:96px;color:#808080;transform:scaleX(0.9)">330</span>
<span class="t" style="left:1061.3px;top:136px;color:#00ffff;transform:scaleX(0.9)">5.00</span>
<span class="t" style="left:1098.3px;top:136px;color:#808080;transform:scaleX(0.9)">300</span>
<span class="t" style="left:1061.3px;top:176px;color:#00ffff;transform:scaleX(0.9)">4.50</span>
<span class="t" style="left:1098.3px;top:176px;color:#808080;transform:scaleX(0.9)">270</span>
<span class="t" style="left:1061.3px;top:216px;color:#00ffff;transform:scaleX(0.9)">4.00</span>
<span class="t" style="left:1098.3px;top:216px;color:#808080;transform:scaleX(0.9)">240</span>
<span class="t" style="left:1061.3px;top:256px;color:#00ffff;transform:scaleX(0.9)">3.50</span>
<span class="t" style="left:1098.3px;top:256px;color:#808080;transform:scaleX(0.9)">210</span>
<span class="t" style="left:1061.3px;top:296px;color:#00ffff;transform:scaleX(0.9)">3.00</span>
<span class="t" style="left:1098.3px;top:296px;color:#808080;transform:scaleX(0.9)">180</span>
<span class="t" style="left:1061.3px;top:336px;color:#00ffff;transform:scaleX(0.9)">2.50</span>
<span class="t" style="left:1098.3px;top:336px;color:#808080;transform:scaleX(0.9)">150</span>
<span class="t" style="left:1061.3px;top:376px;color:#00ffff;transform:scaleX(0.9)">2.00</span>
<span class="t" style="left:1098.3px;top:376px;color:#808080;transform:scaleX(0.9)">120</span>
<span class="t" style="left:1061.3px;top:416px;color:#00ffff;transform:scaleX(0.9)">1.50</span>
<span class="t" style="left:1098.3px;top:416px;color:#808080;transform:scaleX(0.9)">90</span>
<span class="t" style="left:1061.3px;top:456px;color:#00ffff;transform:scaleX(0.9)">1.00</span>
<span class="t" style="left:1098.3px;top:456px;color:#808080;transform:scaleX(0.9)">60</span>
<span class="t" style="left:1061.3px;top:496px;color:#00ffff;transform:scaleX(0.9)">0.50</span>
<span class="t" style="left:1098.3px;top:496px;color:#808080;transform:scaleX(0.9)">30</span>
<span class="t" style="left:1061.3px;top:536px;color:#00ffff;transform:scaleX(0.9)">0.00</span>
<span class="t" style="left:1098.3px;top:536px;color:#808080;transform:scaleX(0.9)">0</span>
<span class="t" style="left:1120px;top:56px;color:#808080;transform:scaleX(0.9)">N</span>
<span class="t" style="left:1119.5px;top:176px;color:#808080;transform:scaleX(0.9)">W</span>
<span class="t" style="left:1119.5px;top:296px;color:#808080;transform:scaleX(0.9)">S</span>
<span class="t" style="left:1116.5px;top:416px;color:#808080;transform:scaleX(0.9)">O</span>
<span class="t" style="left:1116.5px;top:536px;color:#808080;transform:scaleX(0.9)">N</span>
<span class="t" style="left:1135.3px;top:56px;color:#4da6ff;transform:scaleX(0.9)">90</span>
<span class="t" style="left:1135.3px;top:83px;color:#4da6ff;transform:scaleX(0.9)">85</span>
<span class="t" style="left:1135.3px;top:109px;color:#4da6ff;transform:scaleX(0.9)">80</span>
<span class="t" style="left:1135.3px;top:136px;color:#4da6ff;transform:scaleX(0.9)">75</span>
<span class="t" style="left:1135.3px;top:163px;color:#4da6ff;transform:scaleX(0.9)">70</span>
<span class="t" style="left:1135.3px;top:189px;color:#4da6ff;transform:scaleX(0.9)">65</span>
<span class="t" style="left:1135.3px;top:216px;color:#4da6ff;transform:scaleX(0.9)">60</span>
<span class="t" style="left:1135.3px;top:243px;color:#4da6ff;transform:scaleX(0.9)">55</span>
<span class="t" style="left:1135.3px;top:269px;color:#4da6ff;transform:scaleX(0.9)">50</span>
<span class="t" style="left:1135.3px;top:296px;color:#4da6ff;transform:scaleX(0.9)">45</span>
<span class="t" style="left:1135.3px;top:323px;color:#4da6ff;transform:scaleX(0.9)">40</span>
<span class="t" style="left:1135.3px;top:349px;color:#4da6ff;transform:scaleX(0.9)">35</span>
<span class="t" style="left:1135.3px;top:376px;color:#4da6ff;transform:scaleX(0.9)">30</span>
<span class="t" style="left:1135.3px;top:403px;color:#4da6ff;transform:scaleX(0.9)">25</span>
<span class="t" style="left:1135.3px;top:429px;color:#4da6ff;transform:scaleX(0.9)">20</span>
<span class="t" style="left:1135.3px;top:456px;color:#4da6ff;transform:scaleX(0.9)">15</span>
<span class="t" style="left:1135.3px;top:483px;color:#4da6ff;transform:scaleX(0.9)">10</span>
<span class="t" style="left:1135.3px;top:509px;color:#4da6ff;transform:scaleX(0.9)">5</span>
<span class="t" style="left:1135.3px;top:536px;color:#4da6ff;transform:scaleX(0.9)">0</span>
<span class="t c" style="left:39px;top:550px;color:#000;transform:scaleX(0.9)">00:00</span>
<span class="t c" style="left:74px;top:550px;color:#000;transform:scaleX(0.9)">01:00</span>
<span class="t c" style="left:108px;top:550px;color:#000;transform:scaleX(0.9)">02:00</span>
<span class="t c" style="left:143px;top:550px;color:#000;transform:scaleX(0.9)">03:00</span>
<span class="t c" style="left:177px;top:550px;color:#000;transform:scaleX(0.9)">04:00</span>
<span class="t c" style="left:212px;top:550px;color:#000;transform:scaleX(0.9)">05:00</span>
<span class="t c" style="left:247px;top:550px;color:#000;transform:scaleX(0.9)">06:00</span>
<span class="t c" style="left:281px;top:550px;color:#000;transform:scaleX(0.9)">07:00</span>
<span class="t c" style="left:316px;top:550px;color:#000;transform:scaleX(0.9)">08:00</span>
<span class="t c" style="left:350px;top:550px;color:#000;transform:scaleX(0.9)">09:00</span>
<span class="t c" style="left:385px;top:550px;color:#000;transform:scaleX(0.9)">10:00</span>
<span class="t c" style="left:419px;top:550px;color:#000;transform:scaleX(0.9)">11:00</span>
<span class="t c" style="left:454px;top:550px;color:#000;transform:scaleX(0.9)">12:00</span>
<span class="t c" style="left:489px;top:550px;color:#000;transform:scaleX(0.9)">13:00</span>
<span class="t c" style="left:523px;top:550px;color:#000;transform:scaleX(0.9)">14:00</span>
<span class="t c" style="left:558px;top:550px;color:#000;transform:scaleX(0.9)">15:00</span>
<span class="t c" style="left:592px;top:550px;color:#000;transform:scaleX(0.9)">16:00</span>
<span class="t c" style="left:627px;top:550px;color:#000;transform:scaleX(0.9)">17:00</span>
<span class="t c" style="left:661px;top:550px;color:#000;transform:scaleX(0.9)">18:00</span>
<span class="t c" style="left:696px;top:550px;color:#000;transform:scaleX(0.9)">19:00</span>
<span class="t c" style="left:731px;top:550px;color:#000;transform:scaleX(0.9)">20:00</span>
<span class="t c" style="left:765px;top:550px;color:#000;transform:scaleX(0.9)">21:00</span>
<span class="t c" style="left:800px;top:550px;color:#000;transform:scaleX(0.9)">22:00</span>
<span class="t c" style="left:834px;top:550px;color:#000;transform:scaleX(0.9)">23:00</span>
<span class="t c" style="left:869px;top:550px;color:#000;transform:scaleX(0.9)">24:00</span>
<span class="t" style="left:10.5px;top:561px;color:#000;transform:scaleX(0.9)">07:52</span>
<span class="t" style="left:446.5px;top:561px;color:#000;transform:scaleX(0.9)">08:25</span>
<span class="t" style="left:718.5px;top:561px;color:#000;transform:scaleX(0.9)">16:18</span>
<span class="t" style="left:8.5px;top:584px;color:#000;font-weight:bold;transform:scaleX(0.97)">Sensor</span>
<span class="t" style="left:8.5px;top:600px;color:#000;font-weight:bold;transform:scaleX(0.97)">MinWert</span>
<span class="t" style="left:8.5px;top:616px;color:#000;font-weight:bold;transform:scaleX(0.97)">MaxWert</span>
<span class="t" style="left:8.5px;top:632px;color:#000;font-weight:bold;transform:scaleX(0.97)">Durchschnitt</span>
<span class="t" style="left:94.5px;top:584px;color:#000;font-weight:bold;transform:scaleX(0.97)">Außen</span>
<span class="t r" style="right:974.5px;top:584px;color:#000;font-weight:bold;transform:scaleX(0.97)">°C</span>
<span class="t" style="left:100.5px;top:600px;color:#000;transform:scaleX(0.9)">00:00</span>
<span class="t r" style="right:974.5px;top:600px;color:#000;transform:scaleX(0.9)">4.7</span>
<span class="t" style="left:100.5px;top:616px;color:#000;transform:scaleX(0.9)">14:30</span>
<span class="t r" style="right:974.5px;top:616px;color:#000;transform:scaleX(0.9)">7.4</span>
<span class="t" style="left:100.5px;top:632px;color:#000;transform:scaleX(0.9)">(+ 5.17 )</span>
<span class="t r" style="right:974.5px;top:632px;color:#000;transform:scaleX(0.9)">6.46</span>
<span class="t" style="left:212.5px;top:584px;color:#000;font-weight:bold;transform:scaleX(0.97)">Feuchte</span>
<span class="t r" style="right:856.5px;top:584px;color:#000;font-weight:bold;transform:scaleX(0.97)">%</span>
<span class="t" style="left:218.5px;top:600px;color:#000;transform:scaleX(0.9)">15:15</span>
<span class="t r" style="right:856.5px;top:600px;color:#000;transform:scaleX(0.9)">77</span>
<span class="t" style="left:218.5px;top:616px;color:#000;transform:scaleX(0.9)">00:15</span>
<span class="t r" style="right:856.5px;top:616px;color:#000;transform:scaleX(0.9)">94</span>
<span class="t r" style="right:856.5px;top:632px;color:#000;transform:scaleX(0.9)">83</span>
<span class="t" style="left:330.5px;top:584px;color:#000;font-weight:bold;transform:scaleX(0.97)">Luftdruck</span>
<span class="t r" style="right:738.5px;top:584px;color:#000;font-weight:bold;transform:scaleX(0.97)">hPa</span>
<span class="t" style="left:336.5px;top:600px;color:#000;transform:scaleX(0.9)">22:30</span>
<span class="t r" style="right:738.5px;top:600px;color:#000;transform:scaleX(0.9)">1008.3</span>
<span class="t" style="left:336.5px;top:616px;color:#000;transform:scaleX(0.9)">00:00</span>
<span class="t r" style="right:738.5px;top:616px;color:#000;transform:scaleX(0.9)">1017.7</span>
<span class="t" style="left:330.5px;top:632px;color:#000;transform:scaleX(0.885)">^1.1hPa/h</span>
<span class="t r" style="right:738.5px;top:632px;color:#000;transform:scaleX(0.9)">1014.4</span>
<span class="t" style="left:448px;top:584px;color:#000;font-weight:bold;transform:scaleX(0.97)">Wind</span>
<span class="t r" style="right:620.5px;top:584px;color:#000;font-weight:bold;transform:scaleX(0.97)">km/h</span>
<span class="t" style="left:448px;top:600px;color:#000;transform:scaleX(0.885)">Ø 10 min.</span>
<span class="t r" style="right:620.5px;top:600px;color:#000;transform:scaleX(0.9)">20.1</span>
<span class="t" style="left:454px;top:616px;color:#000;transform:scaleX(0.9)">09:00</span>
<span class="t r" style="right:620.5px;top:616px;color:#000;transform:scaleX(0.9)">W 32.0</span>
<span class="t" style="left:454px;top:632px;color:#000;transform:scaleX(0.9)">540.6 km</span>
<span class="t r" style="right:620.5px;top:632px;color:#000;transform:scaleX(0.9)">22.5</span>
<span class="t" style="left:566.5px;top:584px;color:#000;font-weight:bold;transform:scaleX(0.97)">Richtung</span>
<span class="t" style="left:572.5px;top:600px;color:#000;transform:scaleX(0.9)">19:15</span>
<span class="t r" style="right:503px;top:600px;color:#000;transform:scaleX(0.9)">S</span>
<span class="t" style="left:572.5px;top:616px;color:#000;transform:scaleX(0.9)">00:30</span>
<span class="t r" style="right:503px;top:616px;color:#000;transform:scaleX(0.9)">W</span>
<span class="t r" style="right:503px;top:632px;color:#000;transform:scaleX(0.885)">W-SW</span>
<span class="t" style="left:684.5px;top:584px;color:#000;transform:scaleX(0.885)">Regen/1h</span>
<span class="t r" style="right:384px;top:584px;color:#000;transform:scaleX(0.9)">0.00l/m²</span>
<span class="t" style="left:684.5px;top:600px;color:#000;transform:scaleX(0.885)">Regen/Tag</span>
<span class="t r" style="right:384px;top:600px;color:#000;transform:scaleX(0.9)">0.33l/m²</span>
<span class="t" style="left:684.5px;top:616px;color:#000;transform:scaleX(0.885)">Neumond</span>
<span class="t r" style="right:384px;top:616px;color:#000;transform:scaleX(0.9)">11.01.13</span>
<span class="t" style="left:684.5px;top:632px;color:#000;transform:scaleX(0.885)">Vollmond</span>
<span class="t r" style="right:384px;top:632px;color:#000;transform:scaleX(0.9)">27.01.13</span>
<span class="t" style="left:802.5px;top:584px;color:#000;transform:scaleX(0.885)">Wolkenunterg</span>
<span class="t r" style="right:266.5px;top:584px;color:#000;transform:scaleX(0.9)">463m</span>
<span class="t" style="left:802.5px;top:600px;color:#000;transform:scaleX(0.885)">Sichtweite</span>
<span class="t r" style="right:266.5px;top:600px;color:#000;transform:scaleX(0.9)">11-15km</span>
<span class="t" style="left:802.5px;top:616px;color:#000;transform:scaleX(0.885)">Schneefallgr</span>
<span class="t r" style="right:266.5px;top:616px;color:#000;transform:scaleX(0.9)">840m</span>
<span class="t" style="left:802.5px;top:632px;color:#000;transform:scaleX(0.885)">Schneehöhe</span>
<span class="t r" style="right:266.5px;top:632px;color:#000;transform:scaleX(0.9)">0cm</span>
<span class="t" style="left:920.5px;top:584px;color:#000;font-weight:bold;transform:scaleX(0.97)">Solar</span>
<span class="t r" style="right:151.5px;top:584px;color:#000;font-weight:bold;transform:scaleX(0.97)">W/m²</span>
<span class="t" style="left:920.5px;top:600px;color:#000;transform:scaleX(0.885)">Elevation</span>
<span class="t r" style="right:151.5px;top:600px;color:#000;transform:scaleX(0.9)">-60.392</span>
<span class="t" style="left:926.5px;top:616px;color:#000;transform:scaleX(0.9)">14:30</span>
<span class="t r" style="right:151.5px;top:616px;color:#000;transform:scaleX(0.9)">62</span>
<span class="t" style="left:920.5px;top:632px;color:#000;transform:scaleX(0.885)">0 min.</span>
<span class="t r" style="right:151.5px;top:632px;color:#000;transform:scaleX(0.9)">35</span>
</div>
</body></html>
